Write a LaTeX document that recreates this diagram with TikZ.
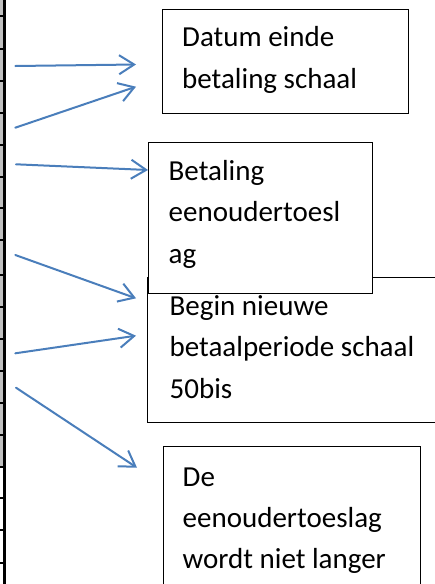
\documentclass[tikz,border=0pt]{standalone}
\usepackage{fontspec}
\setmainfont{Carlito}
\usetikzlibrary{arrows.meta}
\definecolor{arrowblue}{RGB}{74,126,187}
\definecolor{stripgray}{RGB}{192,192,192}
\tikzset{
  box/.style={draw=black, line width=1.1pt, fill=white, anchor=north west, inner sep=0pt},
  txt/.style={anchor=base west, inner sep=0pt, font=\fontsize{29}{41.6}\selectfont},
  conn/.style={draw=arrowblue, line width=2pt, line cap=round,
    -{Straight Barb[length=15pt, width=19pt, line width=2pt]}},
  tick/.style={draw=black, line width=2pt}
}
\begin{document}
\begin{tikzpicture}[x=1pt, y=-1pt]
\useasboundingbox (0,0) rectangle (435,584);
\clip (0,0) rectangle (435,584);
% left strip with ticks
\fill[stripgray] (0,0) rectangle (3.5,467);
\draw[black, line width=2.3pt] (4.6,0) -- (4.6,584);
\foreach \ty in {16,49,81,113,145,177,208,240,275,307,339,371,403,435,467,498,530,563}
  \draw[tick] (0,\ty) -- (5.5,\ty);
% boxes
\node[box, minimum width=298pt, minimum height=145pt] (b3) at (147,277) {};
\node[box, minimum width=224pt, minimum height=151pt] (b2) at (148,142) {};
\node[box, minimum width=246pt, minimum height=104pt] (b1) at (162,9) {};
\node[box, minimum width=257pt, minimum height=160pt] (b4) at (163,446) {};
% texts
\node[txt] (t1a) at (182,46.7) {Datum einde};
\node[txt] (t1b) at (182,88.3) {betaling schaal};
\node[txt] (t2a) at (168.5,180) {Betaling};
\node[txt] (t2b) at (168.5,221.7) {eenoudertoesl};
\node[txt] (t2c) at (168.5,263) {ag};
\node[txt] (t3a) at (169.5,315) {Begin nieuwe};
\node[txt] (t3b) at (169.5,356.5) {betaalperiode schaal};
\node[txt] (t3c) at (169.5,398) {50bis};
\node[txt] (t4a) at (182.5,486) {De};
\node[txt] (t4b) at (182.5,527) {eenoudertoeslag};
\node[txt] (t4c) at (182.5,568) {wordt niet langer};
% arrow end points
\coordinate (s1) at (15.3,66);   \coordinate (e1) at (136,64.5);
\coordinate (s2) at (15.3,127.7); \coordinate (e2) at (136,86.7);
\coordinate (s3) at (16,164.3);  \coordinate (e3) at (b2.west |- 0,170);
\coordinate (s4) at (15.3,255);  \coordinate (e4) at (136,298.3);
\coordinate (s5) at (15.3,353.3); \coordinate (e5) at (136,335.7);
\coordinate (s6) at (16,387.7);  \coordinate (e6) at (137,467.7);
\draw[conn] (s1) -- (e1);
\draw[conn] (s2) -- (e2);
\draw[conn] (s3) -- (e3);
\draw[conn] (s4) -- (e4);
\draw[conn] (s5) -- (e5);
\draw[conn] (s6) -- (e6);
\end{tikzpicture}
\end{document}
